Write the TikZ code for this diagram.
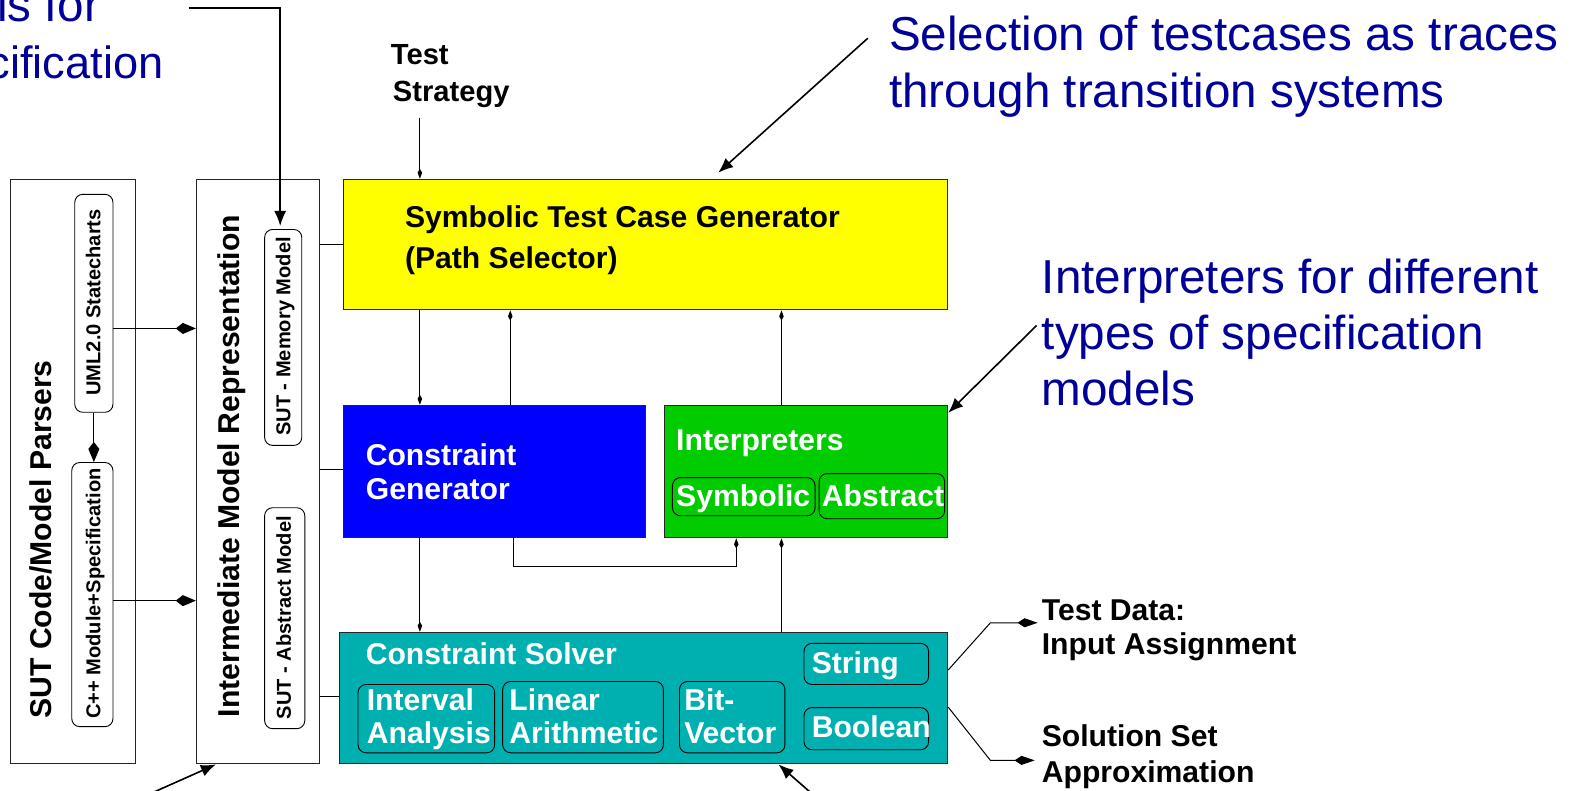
\documentclass[tikz,border=0pt]{standalone}
\usepackage{fontspec}
\setmainfont{Liberation Sans}
\usetikzlibrary{arrows.meta,calc}
\definecolor{annblue}{RGB}{0,0,153}
\definecolor{ygen}{RGB}{255,255,0}
\definecolor{bgen}{RGB}{0,0,255}
\definecolor{ginterp}{RGB}{0,204,0}
\definecolor{tsolver}{RGB}{0,176,176}
\tikzset{
  smallkite/.tip={Kite[length=10pt,width=4.5pt,inset=4pt]},
  bigkite/.tip={Kite[length=20pt,width=11pt,inset=7pt]},
  outkite/.tip={Kite[length=20pt,width=9pt,inset=7pt]},
  frame/.style={draw=black!85, line width=1pt, inner sep=0pt, anchor=north west},
  rbox/.style={draw=black, line width=0.9pt, rounded corners=8pt, inner sep=0pt, anchor=north west},
  conn/.style={draw=black, line width=1pt},
  ann/.style={draw=black, line width=1.6pt, -{Latex[length=15pt,width=12pt]}},
  bl/.style={font=\fontsize{30}{34}\selectfont\bfseries, inner sep=0pt, anchor=base west},
  wl/.style={bl, text=white},
  rt/.style={font=\fontsize{30}{34}\selectfont\bfseries, inner sep=0pt, anchor=base, rotate=90},
  rs/.style={font=\fontsize{20}{24}\selectfont\bfseries, inner sep=0pt, anchor=base, rotate=90},
  bt/.style={font=\fontsize{47.4}{56}\selectfont, text=annblue, inner sep=0pt, anchor=base west},
}
\begin{document}
\begin{tikzpicture}[x=1pt,y=-1pt]
\fill[white] (0,0) rectangle (1568,787);
\useasboundingbox (0,0) rectangle (1568,787);

% main frames
\node[frame, minimum width=124pt, minimum height=582pt] (parser) at (10,178) {};
\node[frame, minimum width=123pt, minimum height=582pt] (imr) at (195,178) {};
\node[frame, fill=ygen, minimum width=602pt, minimum height=130pt] (yellow) at (341,178) {};
\node[frame, fill=bgen, minimum width=301pt, minimum height=132pt] (cgen) at (341,403) {};
\node[frame, fill=ginterp, minimum width=282pt, minimum height=132pt] (interp) at (661,403) {};
\node[frame, fill=tsolver, minimum width=606pt, minimum height=131pt] (solver) at (337,629) {};

% rounded sub boxes
\node[rbox, minimum width=38pt, minimum height=217pt] (sc) at (74,193) {};
\node[rbox, minimum width=41pt, minimum height=263pt] (cpp) at (71,460) {};
\node[rbox, minimum width=37pt, minimum height=215pt] (mem) at (263,228) {};
\node[rbox, minimum width=40pt, minimum height=220pt] (absm) at (263,505) {};
\node[rbox, minimum width=142pt, minimum height=38pt] (symb) at (669,475) {};
\node[rbox, minimum width=125pt, minimum height=45pt] (abst) at (815,471) {};
\node[rbox, minimum width=136pt, minimum height=68pt] (interval) at (356,681) {};
\node[rbox, minimum width=160pt, minimum height=71pt] (linear) at (500,678) {};
\node[rbox, minimum width=105pt, minimum height=71pt] (bitv) at (676,678) {};
\node[rbox, minimum width=124pt, minimum height=41pt] (string) at (800,640) {};
\node[rbox, minimum width=124pt, minimum height=42pt] (boolean) at (800,704) {};

% rotated labels
\node[rt] (parserT) at (51,537) {SUT Code/Model Parsers};
\node[rt] (imrT) at (238,464) {Intermediate Model Representation};
\node[rs] (scT) at (100,301) {UML2.0 Statecharts};
\node[rs] (cppT) at (100,591) {C++ Module+Specification};
\node[rs] (memT) at (289,335) {SUT - Memory Model};
\node[rs] (absT) at (289.5,615) {SUT - Abstract Model};

% horizontal labels
\node[bl, font=\fontsize{29}{34}\selectfont\bfseries] (ts1) at (389,64) {Test};
\node[bl, font=\fontsize{29}{34}\selectfont\bfseries] (ts2) at (391,101) {Strategy};
\node[bl] (yg1) at (403,226) {Symbolic Test Case Generator};
\node[bl] (yg2) at (403,267) {(Path Selector)};
\node[wl] (cg1) at (364,463) {Constraint};
\node[wl] (cg2) at (364,497) {Generator};
\node[wl] (ip) at (673,448) {Interpreters};
\node[wl] (sy) at (673,504) {Symbolic};
\node[wl] (ab) at (818,504) {Abstract};
\node[wl] (cs) at (364,662) {Constraint Solver};
\node[wl] (iv1) at (365,707) {Interval};
\node[wl] (iv2) at (365,740) {Analysis};
\node[wl] (li1) at (507,707) {Linear};
\node[wl] (li2) at (507,740) {Arithmetic};
\node[wl] (bv1) at (681,707) {Bit-};
\node[wl] (bv2) at (681,740) {Vector};
\node[wl] (st) at (808,670) {String};
\node[wl] (bo) at (808,734) {Boolean};
\node[bl] (td1) at (1037,618) {Test Data:};
\node[bl] (td2) at (1037,652) {Input Assignment};
\node[bl] (so1) at (1037,743) {Solution Set};
\node[bl] (so2) at (1037,779) {Approximation};

% blue annotations
\node[bt, anchor=base east] (tl1) at (100,21) {is for};
\node[bt, font=\fontsize{45}{56}\selectfont, anchor=base east] (tl2) at (163,78) {cification};
\node[bt] (sel1) at (885,50) {Selection of testcases as traces};
\node[bt] (sel2) at (885,107) {through transition systems};
\node[bt] (in1) at (1037,292) {Interpreters for different};
\node[bt] (in2) at (1037,348) {types of specification};
\node[bt] (in3) at (1037,404) {models};

% column coordinates
\coordinate (x418) at (418,0);
\coordinate (x508) at (508,0);
\coordinate (x511) at (511,0);
\coordinate (x778) at (778,0);
\coordinate (tsEnd) at (418,117);
\coordinate (jog) at (733,564);

% vertical connectors
\draw[conn,-{smallkite}] (tsEnd) -- (tsEnd |- yellow.north);
\draw[conn,-{smallkite}] (x418 |- yellow.south) -- (x418 |- cgen.north);
\draw[conn,-{smallkite}] (x508 |- cgen.north) -- (x508 |- yellow.south);
\draw[conn,-{smallkite}] (x778 |- interp.north) -- (x778 |- yellow.south);
\draw[conn,-{smallkite}] (x418 |- cgen.south) -- (x418 |- solver.north);
\draw[conn,-{smallkite}] (x778 |- solver.north) -- (x778 |- interp.south);
\draw[conn,-{smallkite}] (x511 |- cgen.south) |- (jog) -- (jog |- interp.south);

% intermediate to boxes
\coordinate (iy1) at ($(imr.north east)+(0,65)$);
\coordinate (iy2) at ($(imr.north east)+(0,289)$);
\coordinate (iy3) at ($(imr.north east)+(0,515)$);
\draw[conn] (iy1) -- (iy1 -| yellow.west);
\draw[conn] (iy2) -- (iy2 -| cgen.west);
\draw[conn] (iy3) -- (iy3 -| solver.west);

% parsers to intermediate
\coordinate (scOut) at ($(sc.north east)+(0,134)$);
\coordinate (cppOut) at ($(cpp.north east)+(0,138)$);
\draw[conn,-{bigkite}] (scOut) -- (scOut -| imr.west);
\draw[conn,-{bigkite}] (cppOut) -- (cppOut -| imr.west);
\draw[conn,-{bigkite}] (sc.south) -- (sc.south |- cpp.north);

% solver outputs
\coordinate (o1) at ($(solver.north east)+(0,38)$);
\coordinate (o2) at ($(solver.north east)+(0,75)$);
\draw[conn,-{outkite},shorten >=4pt] (o1) -- ++(42,-47) coordinate (o1b) -- (o1b -| td1.west);
\draw[conn,-{outkite},shorten >=7pt] (o2) -- ++(42,53) coordinate (o2b) -- (o2b -| so1.west);

% annotation arrows
\coordinate (tlA) at (188,8);
\coordinate (selA) at (864,38);
\coordinate (intA) at (1032,324);
\coordinate (blA) at (132,798);
\coordinate (bmA) at (815,796);
\draw[ann] (tlA) -| ([xshift=-3pt,yshift=3pt]mem.north);
\draw[ann] (selA) -- ($(yellow.north west)+(374,-6)$);
\draw[ann] (intA) -- ($(interp.north east)+(0,8)$);
\draw[ann] (blA) -- ($(imr.south west)+(20,0)$);
\draw[ann] (bmA) -- ($(solver.south west)+(438,0)$);
\end{tikzpicture}
\end{document}
